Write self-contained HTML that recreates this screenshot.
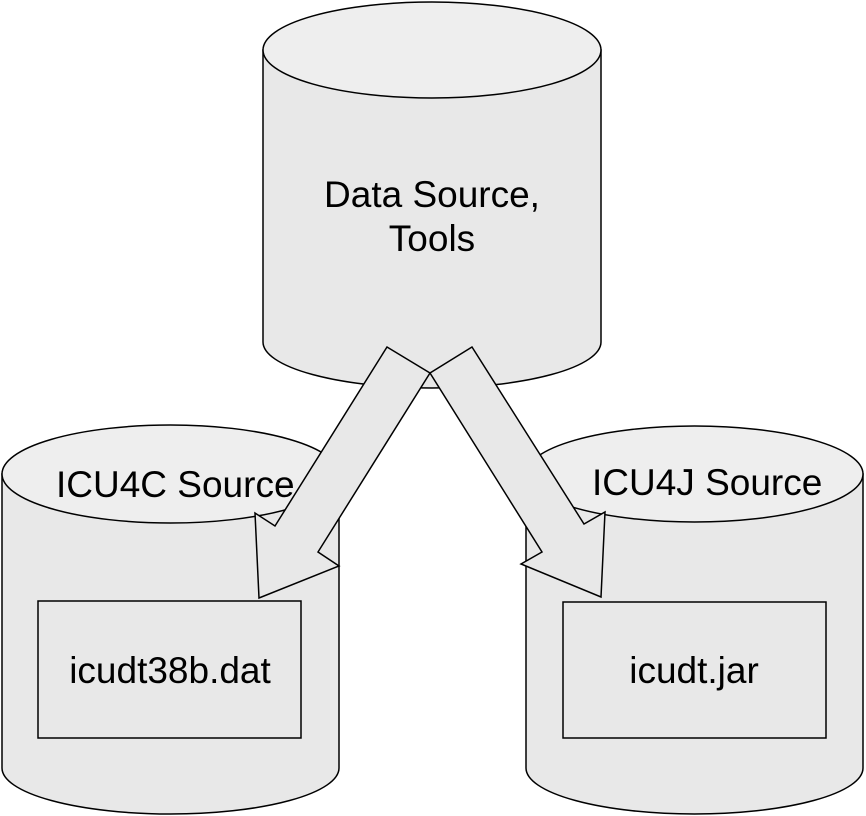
<!DOCTYPE html>
<html><head><meta charset="utf-8"><style>html,body{margin:0;padding:0;background:#fff}svg{display:block}</style></head>
<body>
<svg width="866" height="816" viewBox="0 0 866 816" xmlns="http://www.w3.org/2000/svg" font-family="Liberation Sans, Arial, sans-serif" font-size="37" fill="#000">
<g stroke="#000" stroke-width="1.5">
<path d="M263,50 L263,342 A169,46 0 0 0 601,342 L601,50 Z" fill="#e8e8e8"/>
<ellipse cx="432" cy="50" rx="169" ry="48" fill="#eeeeee"/>
<path d="M2,474 L2,768 A168.5,46 0 0 0 339,768 L339,474 Z" fill="#e8e8e8"/>
<ellipse cx="170.5" cy="474" rx="168.5" ry="49" fill="#eeeeee"/>
<rect x="38" y="601" width="263" height="137" fill="#e8e8e8"/>
<path d="M526,474 L526,768 A168.5,46 0 0 0 863,768 L863,474 Z" fill="#e8e8e8"/>
<ellipse cx="694.5" cy="474" rx="168.5" ry="48" fill="#eeeeee"/>
<rect x="563" y="602" width="263" height="136" fill="#e8e8e8"/>
<polygon points="387,347 430,373 318,552 339,566 259,598 255,513 275,526" fill="#e8e8e8"/>
<polygon points="472,347 430,373 542,552 521,564 601,597 605,512 584,524" fill="#e8e8e8"/>
</g>
<g stroke="none">
<text x="432" y="207" text-anchor="middle">Data Source,</text>
<text x="432" y="251" text-anchor="middle">Tools</text>
<text x="56" y="497">ICU4C Source</text>
<text x="592" y="495">ICU4J Source</text>
<text x="170" y="683" text-anchor="middle">icudt38b.dat</text>
<text x="694" y="683" text-anchor="middle">icudt.jar</text>
</g>
</svg>
</body></html>
